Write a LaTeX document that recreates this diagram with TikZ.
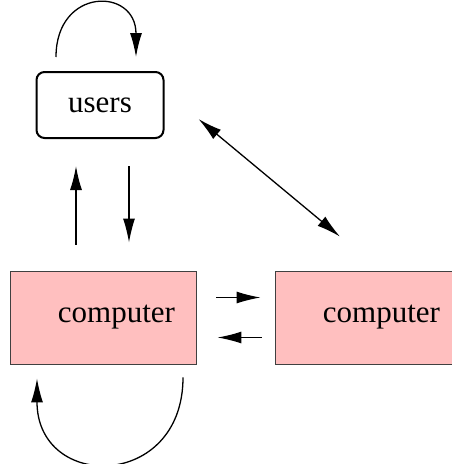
\documentclass[tikz,border=0pt]{standalone}
\usepackage{fontspec}
\setmainfont{Liberation Serif}
\usetikzlibrary{arrows.meta}
\definecolor{comppink}{HTML}{FFBFBF}

\begin{document}
\begin{tikzpicture}[
            x=1pt, y=-1pt,
            usr/.style={draw, rounded corners=8pt, line width=2pt, minimum width=127pt, minimum height=66pt, font=\fontsize{31}{36}\selectfont},
            comp/.style={draw=black!75, fill=comppink, line width=0.8pt, minimum width=186pt, minimum height=93pt, inner sep=0pt, text width=144pt, align=right, font=\fontsize{31}{36}\selectfont},
            arr/.style={-{Latex[length=24pt,width=12pt]}, line width=1.3pt},
            darr/.style={{Latex[length=24pt,width=12pt]}-{Latex[length=24pt,width=12pt]}, line width=1.3pt}
        ]
        \useasboundingbox (0,0) rectangle (451,464);
        \node[usr] (users) at (100,105) {users};
        \node[comp] (c1) at (103,317.5) {computer};
        \node[comp] (c2) at (368,317.5) {computer};
        % self loops
        \draw[arr] ([xshift=-44pt,yshift=14pt]users.north) .. controls +(0,-70) and +(0,-70) .. ([xshift=36pt,yshift=14pt]users.north);
        \draw[arr] ([xshift=80pt,yshift=-13pt]c1.south) .. controls +(0,113) and +(0,113) .. ([xshift=-66pt,yshift=-14pt]c1.south);
        % users <-> computer
        \draw[arr] ([xshift=-27pt,yshift=26pt]c1.north) -- ([xshift=-24pt,yshift=-27pt]users.south);
        \draw[arr] ([xshift=29pt,yshift=-27pt]users.south) -- ([xshift=26pt,yshift=28pt]c1.north);
        \draw[darr] ([xshift=34pt,yshift=-14pt]users.east) -- ([xshift=-28pt,yshift=34pt]c2.north);
        % computer <-> computer
        \draw[arr] ([xshift=20pt,yshift=20pt]c1.east) -- ([xshift=-14pt,yshift=20pt]c2.west);
        \draw[arr] ([xshift=-13pt,yshift=-20pt]c2.west) -- ([xshift=21pt,yshift=-20pt]c1.east);
    \end{tikzpicture}
\end{document}
